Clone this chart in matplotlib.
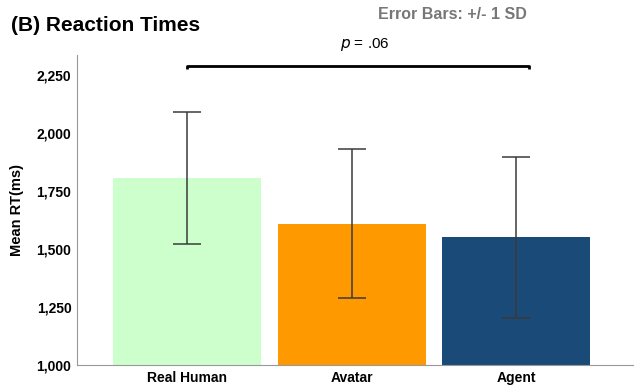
import matplotlib

matplotlib.use("Agg")
import matplotlib.pyplot as plt

plt.rcParams["font.family"] = ["Liberation Sans", "DejaVu Sans"]

groups = ["Real Human", "Avatar", "Agent"]
mean_rt = [1805, 1609, 1550]
sd_rt = [285, 321, 348]
bar_colors = ["#ccffcc", "#ff9900", "#1a4a78"]
y_ticks = [1000, 1250, 1500, 1750, 2000, 2250]
p_label = "$\\it{p}$ = .06"

fig = plt.figure(figsize=(6.35, 3.85), dpi=100)
ax = fig.add_axes([0.1213, 0.052, 0.875, 0.805])

x = list(range(len(groups)))
ax.bar(x, [m - 1000 for m in mean_rt], bottom=1000, width=0.9, color=bar_colors)
ax.errorbar(x, mean_rt, yerr=sd_rt, fmt="none", ecolor="#3a3a3a",
            elinewidth=1.1, capsize=10, capthick=1.1)

# significance bracket
y_br = 2289
ax.plot([0, 0, 2.08, 2.08], [y_br - 12, y_br, y_br, y_br - 12],
        color="black", linewidth=2, clip_on=False, solid_capstyle="butt")
ax.text(1.08, y_br + 55, p_label, ha="center", va="bottom", fontsize=11)

ax.set_ylim(1000, 2336)
ax.set_xlim(-0.67, 2.71)
ax.set_yticks(y_ticks)
ax.set_yticklabels([f"{v:,}" for v in y_ticks], fontweight="bold", fontsize=10)
ax.set_xticks(x)
ax.set_xticklabels(groups, fontweight="bold", fontsize=10)
ax.tick_params(length=0, pad=4)
ax.set_ylabel("Mean RT(ms)", fontweight="bold", fontsize=10.5, labelpad=9)

for side in ["top", "right"]:
    ax.spines[side].set_visible(False)
for side in ["left", "bottom"]:
    ax.spines[side].set_color("#999999")

fig.text(0.017, 0.935, "(B) Reaction Times", fontsize=15, fontweight="bold",
         va="center", ha="left")
fig.text(0.712, 0.963, "Error Bars: +/- 1 SD", fontsize=11.5, fontweight="bold",
         color="#777777", va="center", ha="center")

fig.savefig("out.png", dpi=100)
